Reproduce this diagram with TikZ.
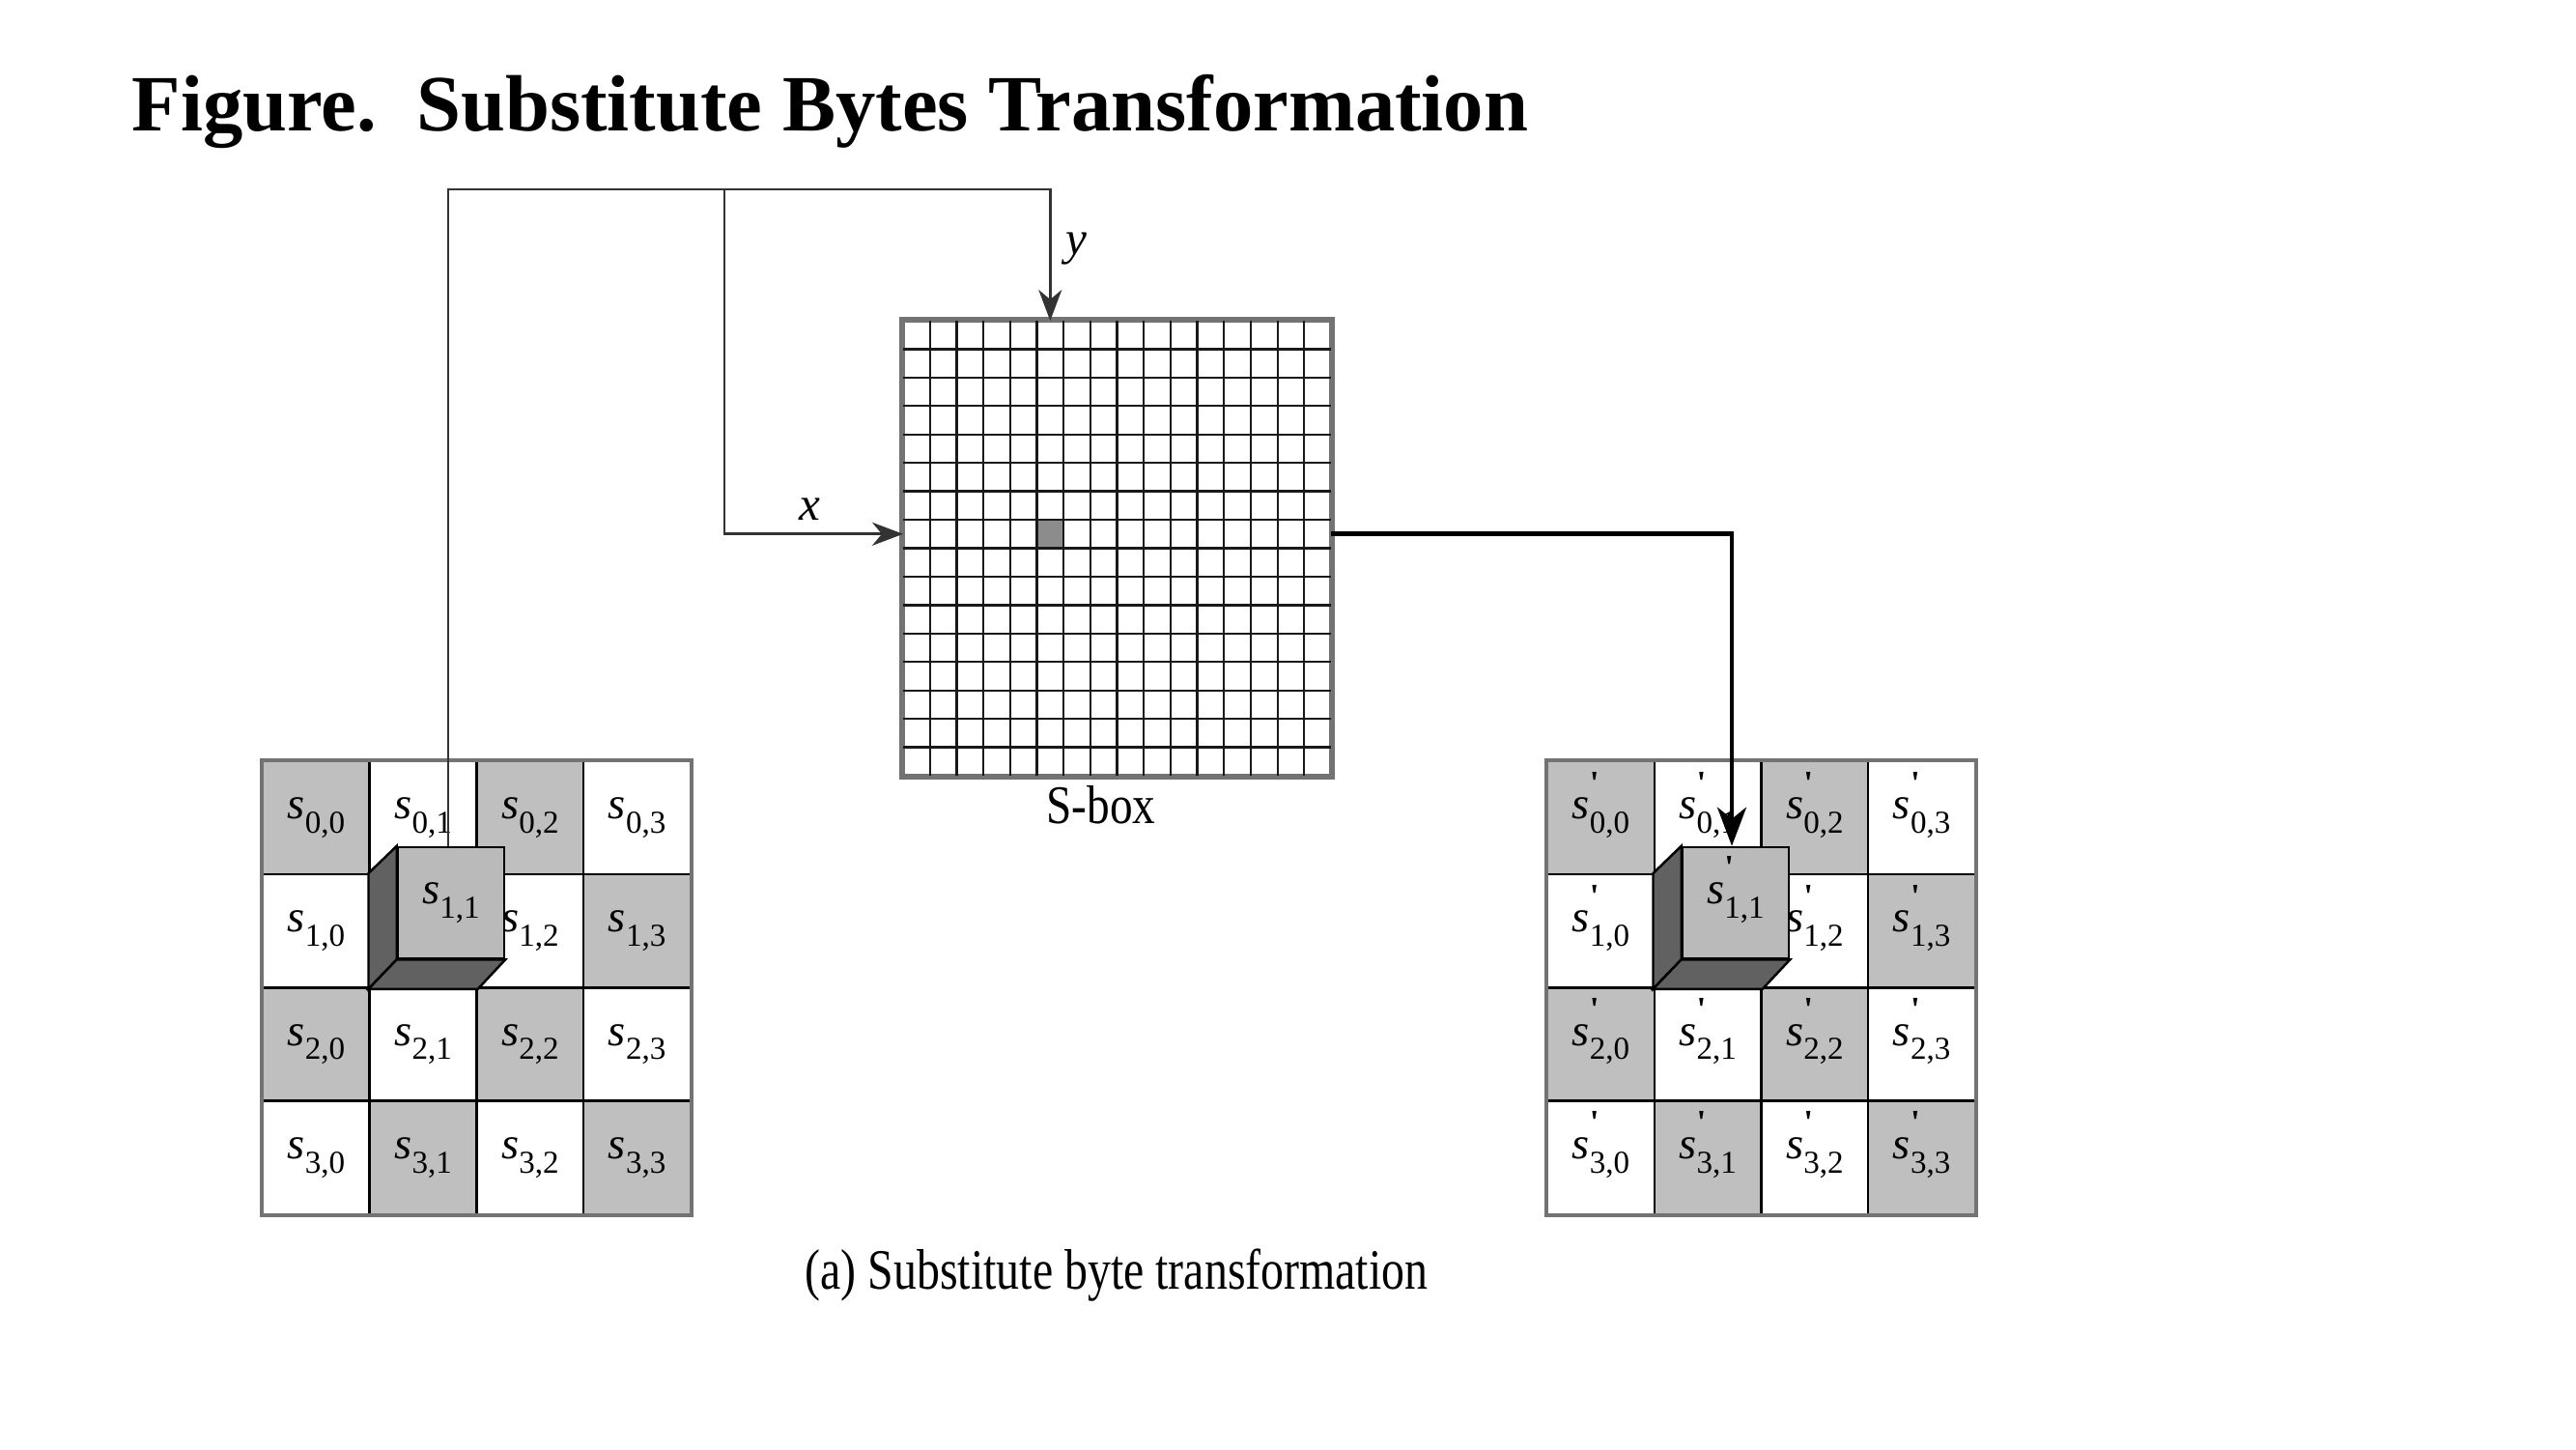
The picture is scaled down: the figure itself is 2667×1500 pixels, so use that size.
\documentclass[tikz,border=0pt]{standalone}
\usepackage{fontspec}
\setmainfont{Liberation Serif}
\usetikzlibrary{arrows.meta}
\newcommand{\lbl}[2]{\textit{s}\raisebox{-0.32em}{\fontsize{9.4}{10}\selectfont #1,#2}}
\newcommand{\lblp}[2]{\textit{s}\rlap{\raisebox{0.55em}[0pt][0pt]{\fontsize{10}{10}\selectfont\bfseries\textquotesingle}}\raisebox{-0.32em}{\fontsize{9.4}{10}\selectfont #1,#2}}
\begin{document}
\begin{tikzpicture}[x=0.01cm,y=-0.01cm,
  cellbox/.style={draw=black, line width=0.7pt, minimum width=1.1075cm, minimum height=1.1725cm, inner sep=0pt, font=\fontsize{13.2}{15}\selectfont},
  shaded/.style={fill=black!25},
  plain/.style={fill=white},
  frame/.style={draw=black!55, line width=1.2pt},
  cubefront/.style={draw=black, line width=0.7pt, fill=black!27, minimum width=1.1cm, minimum height=1.15cm, inner sep=0pt, font=\fontsize{13.2}{15}\selectfont},
  cubeside/.style={draw=black, line width=0.7pt, fill=black!62},
  thinconn/.style={draw=black!80, line width=0.8pt},
  thickconn/.style={draw=black, line width=1.4pt},
  thintip/.style={-{Stealth[length=3.2mm,width=2.4mm,inset=1mm]}},
  thicktip/.style={-{Stealth[length=4mm,width=3mm,inset=1.2mm]}},
  capt/.style={inner sep=0pt, font=\fontsize{16.8}{20}\selectfont}
]
\useasboundingbox (0,0) rectangle (2667,1500);
\fill[white] (0,0) rectangle (2667,1500);

% title
\node[anchor=base west, inner sep=0pt, font=\fontsize{23.5}{28}\selectfont\bfseries] (title) at (136,136) {Figure.\ \ Substitute Bytes Transformation};

% left state grid
\foreach \r in {0,...,3}{
  \foreach \c in {0,...,3}{
    \pgfmathtruncatemacro{\parity}{mod(\r+\c,2)}
    \ifnum\parity=0
      \node[cellbox, shaded] (L\r\c) at ({272+110.75*(\c+0.5)},{788+117.25*(\r+0.5)}) {\lbl{\r}{\c}};
    \else
      \node[cellbox, plain] (L\r\c) at ({272+110.75*(\c+0.5)},{788+117.25*(\r+0.5)}) {\lbl{\r}{\c}};
    \fi
  }
}
\draw[frame] (L00.north west) rectangle (L33.south east);

% right state grid
\foreach \r in {0,...,3}{
  \foreach \c in {0,...,3}{
    \pgfmathtruncatemacro{\parity}{mod(\r+\c,2)}
    \ifnum\parity=0
      \node[cellbox, shaded] (R\r\c) at ({1602+110.75*(\c+0.5)},{788+117.25*(\r+0.5)}) {\lblp{\r}{\c}};
    \else
      \node[cellbox, plain] (R\r\c) at ({1602+110.75*(\c+0.5)},{788+117.25*(\r+0.5)}) {\lblp{\r}{\c}};
    \fi
  }
}
\draw[frame] (R00.north west) rectangle (R33.south east);

% S-box
\node[draw=black!55, line width=1.2pt, minimum width=4.43cm, minimum height=4.71cm, inner sep=0pt] (sbox) at (1156.5,567.5) {};
\fill[black!45] ({935+5*27.6875},{332+7*29.4375}) rectangle ({935+6*27.6875},{332+8*29.4375});
\foreach \i in {1,...,15}{
  \draw[black!90, line width=0.65pt] ({935+\i*27.6875},332) -- ({935+\i*27.6875},803);
  \draw[black!90, line width=0.65pt] (935,{332+\i*29.4375}) -- (1378,{332+\i*29.4375});
}
\draw[draw=black!55, line width=1.2pt] (sbox.north west) rectangle (sbox.south east);
\node[anchor=base, inner sep=0pt, font=\fontsize{16}{19}\selectfont] (sboxlbl) at (1140,852) {\scalebox{0.84}[1]{S-box}};

% cubes
\node[cubefront] (Lcube) at (467,934.5) {\lbl{1}{1}};
\fill[cubeside] (L11.north west) -- (Lcube.north west) -- (Lcube.south west) -- (L11.south west) -- cycle;
\fill[cubeside] (L11.south west) -- (Lcube.south west) -- (Lcube.south east) -- (L11.south east) -- cycle;

\node[cubefront] (Rcube) at (1797,934.5) {\lblp{1}{1}};
\fill[cubeside] (R11.north west) -- (Rcube.north west) -- (Rcube.south west) -- (R11.south west) -- cycle;
\fill[cubeside] (R11.south west) -- (Rcube.south west) -- (Rcube.south east) -- (R11.south east) -- cycle;

% connection points
\coordinate (yin) at ({935+5.5*27.6875},332);
\coordinate (xin) at (935,{332+7.5*29.4375});
\coordinate (xout) at (1378,{332+7.5*29.4375});
\coordinate (topleft) at (464,196);
\coordinate (branch) at (750,196);

\draw[thinconn] (Lcube.north -| topleft) -- (topleft) -| (branch);
\draw[thinconn, thintip] (branch) -| (yin);
\draw[thinconn, thintip] (branch) |- (xin);
\draw[thickconn, thicktip] (xout) -| ([xshift=-0.04cm]Rcube.north);

\node[inner sep=0pt, font=\fontsize{14}{16}\selectfont\itshape] (ylbl) at (1114,258) {y};
\node[inner sep=0pt, font=\fontsize{14}{16}\selectfont\itshape] (xlbl) at (838,527) {x};

% caption
\node[anchor=base west, capt] (caption) at (833,1334) {\scalebox{0.81}[1]{(a) Substitute byte transformation}};
\end{tikzpicture}
\end{document}
